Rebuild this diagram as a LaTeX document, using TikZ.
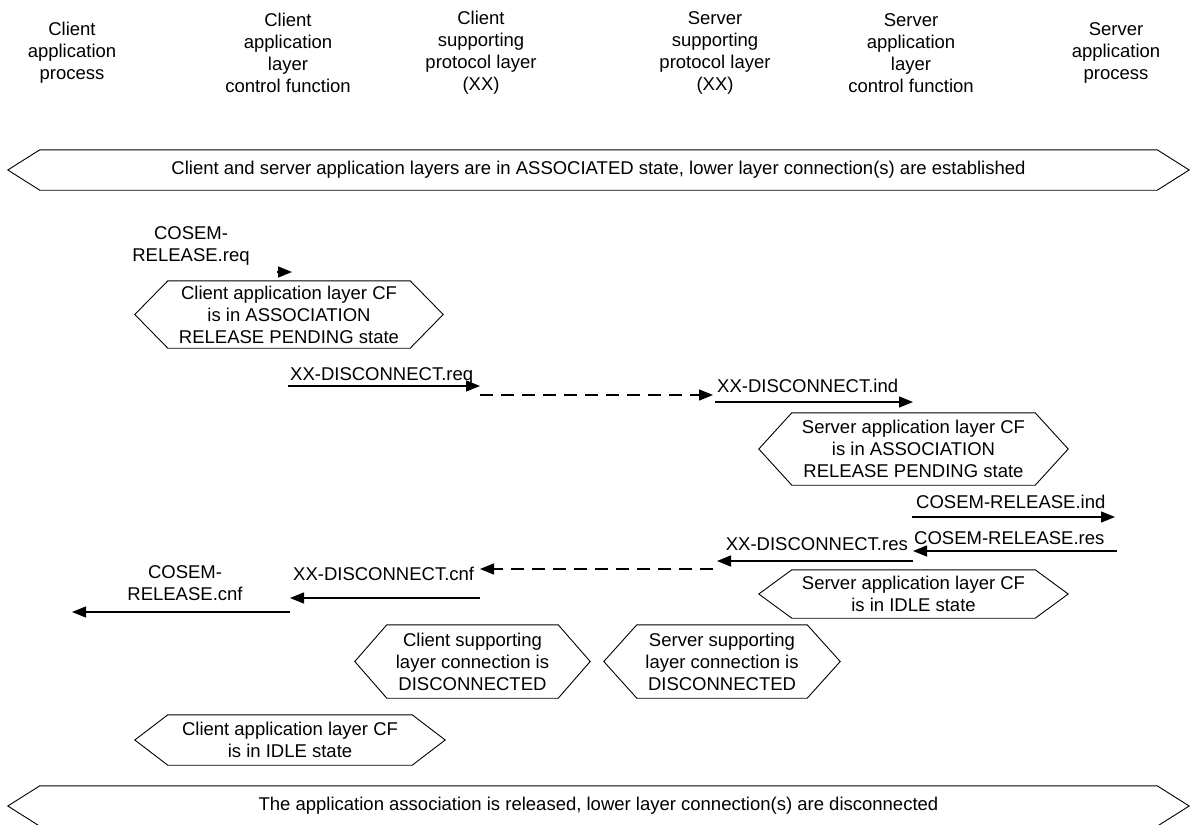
\documentclass[tikz,border=0pt]{standalone}
\usepackage{fontspec}
\setmainfont{Liberation Sans}
\usetikzlibrary{arrows.meta}
% outline of a state box: flat top and bottom, pointed ends
\newcommand{\hexframe}[2]{%
  \draw[frame] (#1.north west) -- (#1.north east) -- ([xshift=#2]#1.east)
    -- (#1.south east) -- (#1.south west) -- ([xshift=-#2]#1.west) -- cycle;}
\begin{document}
\begin{tikzpicture}[x=1pt,y=-1pt,
  txt/.style={font=\fontsize{18.5}{22}\selectfont, inner sep=0pt, align=center},
  hexbox/.style={txt, minimum width=#1},
  frame/.style={line width=0.9pt, line join=miter},
  msg/.style={line width=1.4pt, -{Triangle[length=14pt,width=11pt]}},
  relay/.style={msg, dash pattern=on 13pt off 8pt}]
\useasboundingbox (0,0) rectangle (1195,825);

% column headings
\node[txt] (h1) at (72,53)   {Client\\application\\process};
\node[txt] (h2) at (288,53)  {Client\\application\\layer\\control function};
\node[txt] (h3) at (481,53)  {Client\\supporting\\protocol layer\\(XX)};
\node[txt] (h4) at (715,53)  {Server\\supporting\\protocol layer\\(XX)};
\node[txt] (h5) at (911,53)  {Server\\application\\layer\\control function};
\node[txt] (h6) at (1116,53) {Server\\application\\process};

% initial state banner
\node[hexbox=1117, minimum height=40] (top) at (598.5,170)
  {Client and server application layers are in ASSOCIATED state, lower layer connection(s) are established};
\hexframe{top}{32}

% release request
\coordinate (reqA) at (277,272);
\coordinate (reqB) at (292,272);
\node[txt] (lreq) at (191,246) {COSEM-\\RELEASE.req};
\draw[msg] (reqA) -- (reqB);

\node[hexbox=242, minimum height=67] (chPend) at (289,314.5)
  {Client application layer CF\\is in ASSOCIATION\\RELEASE PENDING state};
\hexframe{chPend}{33}

% disconnect request / indication
\coordinate (dreqA) at (288,386);
\coordinate (dreqB) at (480,386);
\draw[msg] (dreqA) -- (dreqB);
\node[txt, anchor=base west] (ldreq) at ([xshift=2,yshift=6]dreqA) {XX-DISCONNECT.req};

\coordinate (dtrA) at (480,395);
\coordinate (dtrB) at (713,395);
\draw[relay] (dtrA) -- (dtrB);

\coordinate (dindA) at (715,402);
\coordinate (dindB) at (913,402);
\draw[msg] (dindA) -- (dindB);
\node[txt, anchor=base west] (ldind) at ([xshift=2,yshift=10]dindA) {XX-DISCONNECT.ind};

\node[hexbox=243, minimum height=72] (shPend) at (913.5,449)
  {Server application layer CF\\is in ASSOCIATION\\RELEASE PENDING state};
\hexframe{shPend}{33}

% release indication / response
\coordinate (rindA) at (912,517);
\coordinate (rindB) at (1115,517);
\draw[msg] (rindA) -- (rindB);
\node[txt, anchor=base west] (lrind) at ([xshift=4,yshift=9]rindA) {COSEM-RELEASE.ind};

\coordinate (rresA) at (1117,551);
\coordinate (rresB) at (913,551);
\draw[msg] (rresA) -- (rresB);
\node[txt, anchor=base west] (lrres) at ([xshift=1,yshift=7]rresB) {COSEM-RELEASE.res};

\coordinate (dresA) at (913,561);
\coordinate (dresB) at (717,561);
\draw[msg] (dresA) -- (dresB);
\node[txt, anchor=base east] (ldres) at ([xshift=-5,yshift=11]dresA) {XX-DISCONNECT.res};

\node[hexbox=243, minimum height=48] (shIdle) at (913.5,594)
  {Server application layer CF\\is in IDLE state};
\hexframe{shIdle}{33}

% disconnect confirmation back to the client
\coordinate (dtbA) at (713,569);
\coordinate (dtbB) at (480,569);
\draw[relay] (dtbA) -- (dtbB);

\coordinate (dcnfA) at (480,598);
\coordinate (dcnfB) at (290,598);
\draw[msg] (dcnfA) -- (dcnfB);
\node[txt, anchor=base west] (ldcnf) at ([xshift=3,yshift=18]dcnfB) {XX-DISCONNECT.cnf};

\coordinate (rcnfA) at (290,612);
\coordinate (rcnfB) at (72,612);
\draw[msg] (rcnfA) -- (rcnfB);
\node[txt] (lrcnf) at (185,583) {COSEM-\\RELEASE.cnf};

% supporting layers disconnected
\node[hexbox=171, minimum height=73] (csDisc) at (472.5,661.5)
  {Client supporting\\layer connection is\\DISCONNECTED};
\hexframe{csDisc}{32}
\node[hexbox=170, minimum height=73] (ssDisc) at (722,661.5)
  {Server supporting\\layer connection is\\DISCONNECTED};
\hexframe{ssDisc}{33}

\node[hexbox=244, minimum height=50] (chIdle) at (290,740)
  {Client application layer CF\\is in IDLE state};
\hexframe{chIdle}{33}

% final state banner
\node[hexbox=1117, minimum height=40] (bot) at (598.5,806)
  {The application association is released, lower layer connection(s) are disconnected};
\hexframe{bot}{32}
\end{tikzpicture}
\end{document}
